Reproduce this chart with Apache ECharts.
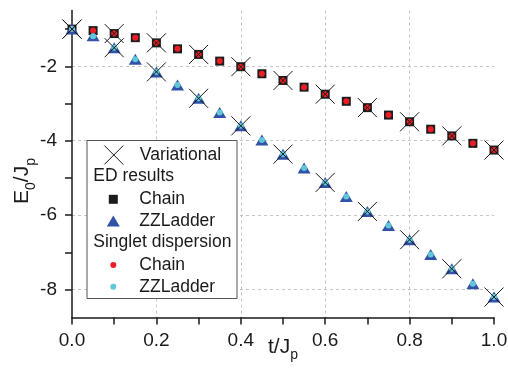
<!DOCTYPE html>
<html>
<head>
<meta charset="utf-8">
<script src="https://cdn.jsdelivr.net/npm/echarts@6/dist/echarts.min.js"></script>
<style>html,body{margin:0;padding:0;background:#fff}#c{width:508px;height:370px}</style>
</head>
<body>
<div id="c"></div>
<script>
// ---- data ----
const tFine = [0, 0.05, 0.1, 0.15, 0.2, 0.25, 0.3, 0.35, 0.4, 0.45, 0.5, 0.55, 0.6, 0.65, 0.7, 0.75, 0.8, 0.85, 0.9, 0.95, 1.0];
const tCoarse = [0, 0.1, 0.2, 0.3, 0.4, 0.5, 0.6, 0.7, 0.8, 0.9, 1.0];
const edChain = [-1.00, -1.04, -1.12, -1.23, -1.37, -1.53, -1.68, -1.86, -2.01, -2.20, -2.38, -2.56, -2.75, -2.94, -3.11, -3.31, -3.49, -3.69, -3.87, -4.07, -4.25];
const edLadder = [-1.00, -1.18, -1.50, -1.81, -2.15, -2.50, -2.86, -3.24, -3.60, -3.98, -4.36, -4.73, -5.12, -5.50, -5.90, -6.28, -6.66, -7.06, -7.44, -7.84, -8.20];
const sdChain = [-1.00, -1.04, -1.12, -1.23, -1.37, -1.53, -1.68, -1.86, -2.01, -2.20, -2.38, -2.56, -2.75, -2.94, -3.11, -3.31, -3.49, -3.69, -3.87, -4.07, -4.25];
const sdLadder = [-1.00, -1.19, -1.50, -1.81, -2.15, -2.50, -2.86, -3.24, -3.60, -3.98, -4.36, -4.73, -5.12, -5.50, -5.90, -6.28, -6.66, -7.06, -7.44, -7.84, -8.20];
const varChain = [-1.00, -1.12, -1.37, -1.68, -2.01, -2.38, -2.75, -3.11, -3.49, -3.87, -4.25];
const varLadder = [-1.00, -1.50, -2.15, -2.86, -3.60, -4.36, -5.12, -5.90, -6.66, -7.44, -8.20];
const yTickValues = [-8, -7, -6, -5, -4, -3, -2, -1];
const yLabelValues = [-8, -6, -4, -2];
const yGridValues = [-8, -6, -4, -2];
const xTitle = '{a|t/J}{b|p}';
const yTitle = '{a|E}{b|0}{a|/J}{b|p}';

const pairs = (xs, ys) => xs.map((x, i) => [x, ys[i]]);

const FONT = '"Liberation Sans", Arial, sans-serif';
const INK = '#1a1a1a';
const X_PATH = 'path://M0,0L10,10M10,0L0,10';
const C_SQ = '#1c1c1c', C_RED = '#ee1d25', C_TRI = '#3152a6', C_CYAN = '#60c6d8';

const richTitle = {
  a: {fontSize: 21, lineHeight: 22, verticalAlign: 'top', color: INK, fontFamily: FONT},
  b: {fontSize: 14, lineHeight: 14, padding: [16, 0, 0, 0], color: INK, fontFamily: FONT}
};
const axisLineStyle = {color: INK, width: 1.5};
const gridLineStyle = {color: '#c6c6c6', type: [3, 3], width: 1};

const ICON_CX = 113.3, TEXT_X = 139.3;
function legendRow(name, label, cy, w, h, icon, itemStyle) {
  const d = {name: name, icon: icon};
  if (itemStyle) d.itemStyle = itemStyle;
  return {
    data: [d],
    orient: 'vertical',
    left: ICON_CX - w / 2,
    top: cy - Math.max(h, 20) / 2,
    itemWidth: w, itemHeight: h,
    padding: 0, itemGap: 0,
    selectedMode: false,
    formatter: () => label,
    textStyle: {fontSize: 17.5, lineHeight: 20, color: INK, fontFamily: FONT,
      padding: [0, 0, 0, TEXT_X - (ICON_CX + w / 2 + 5)]},
    z: 5
  };
}

const chart = echarts.init(document.getElementById('c'), null, {renderer: 'canvas'});
chart.setOption({
  animation: false,
  backgroundColor: '#fff',
  textStyle: {fontFamily: FONT},
  grid: {left: 72, right: 14, top: 10.5, bottom: 52.5, containLabel: false, outerBoundsMode: 'none'},
  xAxis: {
    type: 'value', min: 0, max: 1, interval: 0.2,
    axisLine: {show: true, lineStyle: axisLineStyle},
    axisTick: {show: true, length: 7, lineStyle: axisLineStyle},
    minorTick: {show: true, splitNumber: 2, length: 7, lineStyle: axisLineStyle},
    splitLine: {show: true, showMinLine: false, showMaxLine: false, lineStyle: gridLineStyle},
    axisLabel: {fontSize: 19, color: INK, margin: 14, formatter: v => v.toFixed(1)},
    name: xTitle, nameLocation: 'middle', nameGap: 19, nameMoveOverlap: false,
    nameTextStyle: {rich: richTitle}
  },
  yAxis: [{
    type: 'value', min: -8.75, max: -0.5,
    axisLine: {show: true, onZero: false, lineStyle: axisLineStyle},
    axisTick: {show: true, length: 7, lineStyle: axisLineStyle, customValues: yTickValues},
    axisLabel: {fontSize: 19, color: INK, margin: 15, customValues: yLabelValues},
    splitLine: {show: false},
    name: yTitle, nameLocation: 'middle', nameGap: 38, nameMoveOverlap: false,
    nameTextStyle: {rich: richTitle, padding: [0, 34, 0, 0]}
  }, {
    type: 'value', min: -8.75, max: -0.5, position: 'left',
    axisLine: {show: false},
    axisTick: {show: false, customValues: yGridValues},
    axisLabel: {show: false},
    splitLine: {show: true, lineStyle: gridLineStyle}
  }],
  legend: [
    legendRow('Variational', 'Variational', 155, 19, 19, X_PATH, {color: 'transparent', borderColor: INK, borderWidth: 1, opacity: 1}),
    legendRow('ED Chain', 'Chain', 199.3, 9, 9, 'rect', {opacity: 1}),
    legendRow('ED ZZLadder', 'ZZLadder', 220.9, 13, 11, 'triangle', {opacity: 1}),
    legendRow('SD Chain', 'Chain', 265, 6, 6, 'circle', {opacity: 1}),
    legendRow('SD ZZLadder', 'ZZLadder', 286.7, 6, 6, 'circle', {opacity: 1})
  ],
  graphic: [
    {type: 'rect', left: 86.5, top: 140, z: 3,
      shape: {width: 150, height: 158}, style: {fill: '#fff', stroke: '#555', lineWidth: 1}},
    {type: 'text', left: 93.3, top: 177.3 - 10, z: 5,
      style: {text: 'ED results', font: '17.5px ' + FONT, fill: INK}},
    {type: 'text', left: 93.3, top: 243.3 - 10, z: 5,
      style: {text: 'Singlet dispersion', font: '17.5px ' + FONT, fill: INK}}
  ],
  series: [
    {name: 'ED Chain', type: 'scatter', data: pairs(tFine, edChain), symbol: 'rect', symbolSize: 9,
      clip: false, itemStyle: {color: C_SQ, opacity: 1}, z: 2},
    {name: 'ED ZZLadder', type: 'scatter', data: pairs(tFine, edLadder), symbol: 'triangle', symbolSize: [13, 11],
      clip: false, itemStyle: {color: C_TRI, opacity: 1}, z: 2},
    {name: 'SD Chain', type: 'scatter', data: pairs(tFine, sdChain), symbol: 'circle', symbolSize: 6,
      clip: false, itemStyle: {color: C_RED, opacity: 1}, z: 2},
    {name: 'SD ZZLadder', type: 'scatter', data: pairs(tFine, sdLadder), symbol: 'circle', symbolSize: 6,
      clip: false, itemStyle: {color: C_CYAN, opacity: 1}, z: 2},
    {name: 'Variational', type: 'scatter', data: pairs(tCoarse, varChain), symbol: X_PATH, symbolSize: 19,
      clip: false, itemStyle: {color: 'transparent', borderColor: INK, borderWidth: 1, opacity: 1}, z: 2},
    {name: 'Variational', type: 'scatter', data: pairs(tCoarse, varLadder), symbol: X_PATH, symbolSize: 19,
      clip: false, itemStyle: {color: 'transparent', borderColor: INK, borderWidth: 1, opacity: 1}, z: 2}
  ]
});
</script>
</body>
</html>
